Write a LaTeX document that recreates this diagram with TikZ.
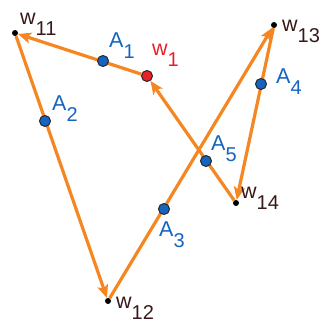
\documentclass[tikz,border=0pt]{standalone}
\usepackage{fontspec}
\setmainfont{Liberation Sans}
\definecolor{ggbOrange}{RGB}{245,135,35}
\definecolor{ggbBlue}{RGB}{21,101,192}
\definecolor{ggbRed}{RGB}{232,32,42}
\definecolor{ggbDark}{RGB}{55,25,25}
\usetikzlibrary{arrows.meta, backgrounds}
\newcommand{\ptlabel}[2]{#1\raisebox{-11pt}{\fontsize{20}{20}\selectfont #2}}

\begin{document}
\begin{tikzpicture}[x=1pt, y=-1pt]
      \tikzstyle{vertex} = [circle, fill=black, inner sep=0pt, minimum size=6pt]
      \tikzstyle{apoint} = [circle, draw=black!85, fill=ggbBlue, line width=1pt, inner sep=0pt, minimum size=11pt]
      \tikzstyle{rpoint} = [apoint, fill=ggbRed]
      \tikzstyle{lbl} = [anchor=base west, inner sep=0pt, font=\fontsize{21.5}{24}\selectfont]
      \tikzstyle{line} = [draw, ggbOrange, line width=3.2pt, -{Stealth[length=13pt, width=11pt, inset=3pt]}]

      \useasboundingbox (0,0) rectangle (322,324);

      % corners of the walk
      \node [vertex] (w11) at (15,33) {};
      \node [vertex] (w12) at (108,301) {};
      \node [vertex] (w13) at (274,25) {};
      \node [vertex] (w14) at (236,203) {};
      \node [rpoint] (w1) at (147,76) {};

      % points on the sides
      \node [apoint] (A1) at (103,61) {};
      \node [apoint] (A2) at (45,121) {};
      \node [apoint] (A3) at (164,209) {};
      \node [apoint] (A4) at (261,84) {};
      \node [apoint] (A5) at (206,161) {};

      % labels
      \node [lbl, text=ggbDark] (l11) at (20,24) {\ptlabel{w}{11}};
      \node [lbl, text=ggbDark] (l12) at (116,308) {\ptlabel{w}{12}};
      \node [lbl, text=ggbDark] (l13) at (282,31) {\ptlabel{w}{13}};
      \node [lbl, text=ggbDark] (l14) at (241,198) {\ptlabel{w}{14}};
      \node [lbl, text=ggbRed] (l1) at (152,55) {\ptlabel{w}{1}};
      \node [lbl, text=ggbBlue] (lA1) at (109,47) {\ptlabel{A}{1}};
      \node [lbl, text=ggbBlue] (lA2) at (52,110) {\ptlabel{A}{2}};
      \node [lbl, text=ggbBlue] (lA3) at (159,236) {\ptlabel{A}{3}};
      \node [lbl, text=ggbBlue] (lA4) at (276,83) {\ptlabel{A}{4}};
      \node [lbl, text=ggbBlue] (lA5) at (211,150) {\ptlabel{A}{5}};

      \begin{pgfonlayer}{background}
        \path [line] (w14) -- (w1);
        \path [line] (w1) -- (w11);
        \path [line] (w11) -- (w12);
        \path [line] (w12) -- (w13);
        \path [line] (w13) -- (w14);
      \end{pgfonlayer}
    \end{tikzpicture}
\end{document}
